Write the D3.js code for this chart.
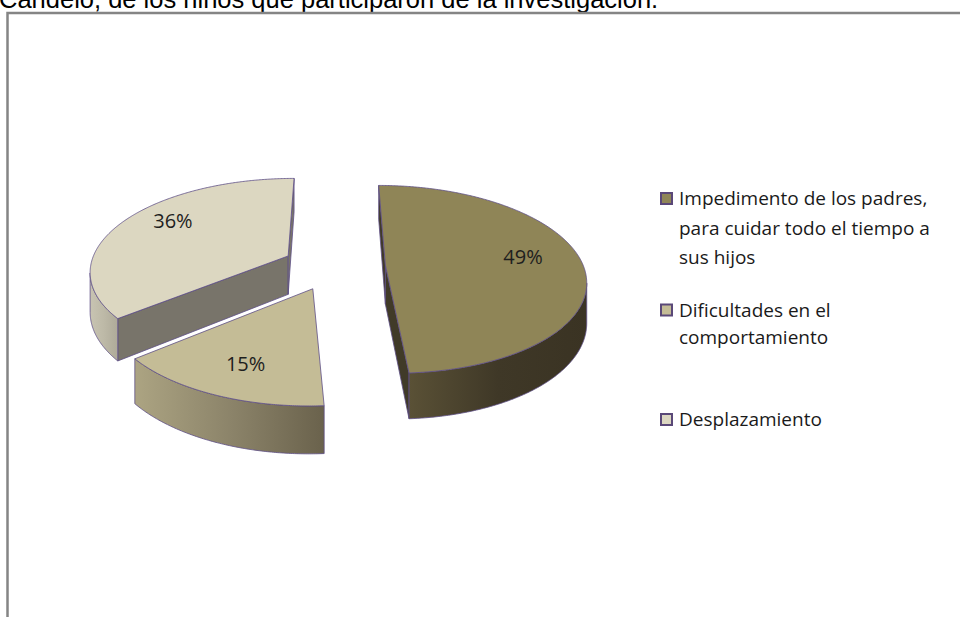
<!DOCTYPE html>
<html>
<head>
<meta charset="utf-8">
<script src="https://cdn.jsdelivr.net/npm/d3@7"></script>
<style>
  html, body { margin: 0; padding: 0; background: #ffffff; overflow: hidden; }
  svg { display: block; }
</style>
</head>
<body>
<svg id="chart" width="960" height="617"></svg>
<script>
// ---- data ----
const titleText = "Candelo, de los niños que participaron de la investigación.";
const categories = [
  "Impedimento de los padres, para cuidar todo el tiempo a sus hijos",
  "Dificultades en el comportamiento",
  "Desplazamiento"
];
const legendLines = [
  ["Impedimento de los padres,", "para cuidar todo el tiempo a", "sus hijos"],
  ["Dificultades en el", "comportamiento"],
  ["Desplazamiento"]
];
const values = [49, 15, 36];

// ---- palette ----
const topColors  = ["#8f8557", "#c4bc96", "#dcd7c1"];
const wallColors = ["#403a28", "#8c8468", "#78746a"];
const sideStops  = [
  ["#5a5136", "#3f3827", "#3a3323"],
  ["#aca482", "#8c846a", "#6a624c"],
  ["#c8c4b2", "#bdb9a7", "#aeaa99"]
];
const edgeColor = "#5e4f86";

const svg = d3.select("#chart");
const W = 960, H = 617;

// ---- frame & heading ----
svg.append("text")
  .attr("x", -1).attr("y", 8)
  .attr("font-family", "'Liberation Sans', Arial, sans-serif")
  .attr("font-size", 25.5)
  .attr("fill", "#000")
  .text(titleText);

svg.append("path")
  .attr("d", `M7.5,${H + 5} V13 H${W + 5}`)
  .attr("fill", "none")
  .attr("stroke", "#858585")
  .attr("stroke-width", 2.5);

// ---- 3D pie geometry ----
const geo = { cx: 334, cy: 266, rx: 198, ry: 92, persp: 0.15, depth: 39, explode: 0.26 };

const color = d3.scaleOrdinal().domain(d3.range(values.length)).range(topColors);
const wallColor = d3.scaleOrdinal().domain(d3.range(values.length)).range(wallColors);

const pie = d3.pie().sort(null).startAngle(0).endAngle(2 * Math.PI).value(d => d);
const arcs = pie(values).map((d, i) => Object.assign(d, { i }));

// perspective projection: X horizontal (px), V depth (radius units, + toward viewer), Hd drop (px)
function project(X, V, Hd) {
  const p = 1 / (1 - geo.persp * V);
  return [geo.cx + X * p, geo.cy + (geo.ry * V + Hd) * p];
}

function sliceGeom(d) {
  const mid = (d.startAngle + d.endAngle) / 2;
  const Xc = geo.explode * geo.rx * Math.sin(mid);
  const Vc = -geo.explode * Math.cos(mid);
  const rim = (a, h) => project(Xc + geo.rx * Math.sin(a), Vc - Math.cos(a), h);
  const ctr = h => project(Xc, Vc, h);
  const inner = (fx, fv, a, h) => project(Xc + fx * geo.rx * Math.sin(a), Vc - fv * Math.cos(a), h);
  return { mid, Xc, Vc, rim, ctr, inner };
}

function signedArea(pts) {
  let s = 0;
  for (let k = 0; k < pts.length; k++) {
    const [x1, y1] = pts[k], [x2, y2] = pts[(k + 1) % pts.length];
    s += x1 * y2 - x2 * y1;
  }
  return s / 2;
}

// orientation of a face that looks toward the viewer (front rim at 180 deg)
const refG = sliceGeom({ startAngle: Math.PI - 0.1, endAngle: Math.PI + 0.1 });
const frontSign = Math.sign(signedArea([
  refG.rim(Math.PI - 0.01, 0), refG.rim(Math.PI + 0.01, 0),
  refG.rim(Math.PI + 0.01, geo.depth), refG.rim(Math.PI - 0.01, geo.depth)
]));
const isFront = pts => Math.sign(signedArea(pts)) === frontSign;

const line = d3.line().curve(d3.curveLinear);
const closed = pts => line(pts) + "Z";

// gradients for the curved sides
const defs = svg.append("defs");
arcs.forEach(d => {
  const g = defs.append("linearGradient")
    .attr("id", "side" + d.i)
    .attr("x1", 0).attr("y1", 0).attr("x2", 1).attr("y2", 0);
  sideStops[d.i].forEach((c, k, arr) => {
    g.append("stop").attr("offset", k / (arr.length - 1)).attr("stop-color", c);
  });
});

// back-to-front drawing order
const order = arcs.slice().sort((a, b) => sliceGeom(a).Vc - sliceGeom(b).Vc);

const pieG = svg.append("g");
order.forEach(d => {
  const g = sliceGeom(d);
  const a0 = d.startAngle, a1 = d.endAngle;
  const n = Math.max(2, Math.ceil((a1 - a0) / (Math.PI / 360)));
  const angles = d3.range(n + 1).map(k => a0 + (a1 - a0) * k / n);
  const sg = pieG.append("g");

  // radial walls
  const walls = [
    [g.ctr(0), g.rim(a0, 0), g.rim(a0, geo.depth), g.ctr(geo.depth)],
    [g.rim(a1, 0), g.ctr(0), g.ctr(geo.depth), g.rim(a1, geo.depth)]
  ];
  walls.filter(isFront).forEach(w => {
    sg.append("path").attr("d", closed(w))
      .attr("fill", wallColor(d.i))
      .attr("stroke", edgeColor).attr("stroke-width", 0.8).attr("stroke-linejoin", "round");
  });

  // curved outer side, split into runs of visible segments
  const runs = [];
  let cur = null;
  for (let k = 0; k < n; k++) {
    const q = [g.rim(angles[k], 0), g.rim(angles[k + 1], 0),
               g.rim(angles[k + 1], geo.depth), g.rim(angles[k], geo.depth)];
    if (isFront(q)) {
      if (!cur) { cur = [k]; runs.push(cur); }
      cur.push(k + 1);
    } else cur = null;
  }
  runs.forEach(run => {
    const topPts = run.map(k => g.rim(angles[k], 0));
    const botPts = run.map(k => g.rim(angles[k], geo.depth)).reverse();
    sg.append("path").attr("d", closed(topPts.concat(botPts)))
      .attr("fill", `url(#side${d.i})`)
      .attr("stroke", edgeColor).attr("stroke-width", 0.8).attr("stroke-linejoin", "round");
  });

  // top face
  const topFace = [g.ctr(0)].concat(angles.map(a => g.rim(a, 0)));
  sg.append("path").attr("d", closed(topFace))
    .attr("fill", color(d.i))
    .attr("stroke", edgeColor).attr("stroke-width", 0.8).attr("stroke-linejoin", "round");
});

// percentage labels
const fmt = d3.format(".0%");
arcs.forEach(d => {
  const g = sliceGeom(d);
  const [lx, ly] = g.inner(0.7, 0.8, g.mid, -6);
  svg.append("text")
    .attr("x", lx).attr("y", ly)
    .attr("dy", "0.35em")
    .attr("text-anchor", "middle")
    .attr("font-family", "'Open Sans', sans-serif")
    .attr("font-size", 20)
    .attr("fill", "#1e1e1e")
    .text(fmt(d.data / d3.sum(values)));
});

// ---- legend ----
const legendY = [205, 316.5, 426];
const lineGap = [29.5, 27.5, 0];
const legend = svg.append("g");
legendLines.forEach((lines, i) => {
  const base = legendY[i];
  legend.append("rect")
    .attr("x", 661).attr("y", base - 12)
    .attr("width", 11).attr("height", 11)
    .attr("fill", color(i))
    .attr("stroke", "#5a4878").attr("stroke-width", 2);
  lines.forEach((t, k) => {
    legend.append("text")
      .attr("x", 679).attr("y", base + k * lineGap[i])
      .attr("font-family", "'Open Sans', sans-serif")
      .attr("font-size", 19)
      .attr("fill", "#1a1a1a")
      .text(t);
  });
});
</script>
</body>
</html>
